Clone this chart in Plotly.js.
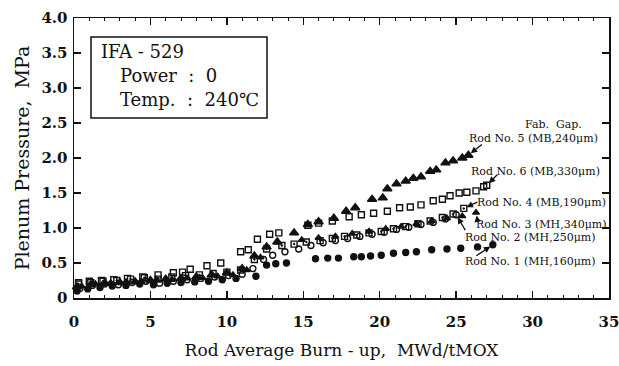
<!DOCTYPE html>
<html>
<head>
<meta charset="utf-8">
<script src="https://cdn.plot.ly/plotly-3.0.1.min.js"></script>
<style>html,body{margin:0;padding:0;background:#fff;}#chart{width:619px;height:366px;}</style>
</head>
<body>
<div id="chart"></div>
<script>
// ---- data ----
const rod1X = [0.2,0.9,1.7,2.5,3.4,4.3,5.2,6.1,7.0,7.9,8.8,9.7,10.6,11.9,12.6,13.2,13.9,15.8,16.6,17.3,18.3,18.8,19.4,20.1,20.9,21.7,22.4,23.4,24.4,25.3,26.4,27.4];
const rod1Y = [0.10,0.13,0.15,0.17,0.18,0.20,0.19,0.21,0.22,0.23,0.24,0.26,0.28,0.31,0.47,0.49,0.50,0.56,0.57,0.57,0.59,0.59,0.60,0.61,0.64,0.65,0.66,0.69,0.70,0.71,0.73,0.76];

const rod2X = [0.4,1.2,2.0,2.9,3.8,4.7,5.6,6.5,7.4,8.3,9.2,10.1,11.0,11.7,12.4,13.0,13.8,14.7,15.5,16.3,17.1,17.9,18.7,19.5,20.3,21.1,21.9,22.7,23.5,24.3,25.0];
const rod2Y = [0.14,0.18,0.20,0.19,0.22,0.24,0.21,0.24,0.26,0.28,0.30,0.32,0.34,0.42,0.55,0.61,0.66,0.70,0.75,0.79,0.82,0.85,0.88,0.91,0.94,0.98,1.01,1.05,1.08,1.13,1.19];

const rod3X = [0.5,1.4,2.4,3.4,4.4,5.4,6.4,7.4,8.4,9.4,10.4,11.3,12.2,13.3,14.9,16.0,17.1,18.2,19.3,20.4,21.4,22.4,23.4,24.4,25.4,26.3];
const rod3Y = [0.17,0.20,0.22,0.23,0.24,0.26,0.26,0.28,0.29,0.31,0.33,0.40,0.58,0.80,0.83,0.86,0.88,0.92,0.95,0.99,1.02,1.06,1.10,1.14,1.17,1.22];

const rod4X = [0.3,1.1,1.9,2.8,3.7,4.6,5.5,6.4,7.3,8.2,9.1,10.0,10.9,11.8,12.6,13.6,14.4,15.2,16.1,16.9,17.7,18.5,19.3,20.1,20.9,21.7,22.5,23.3,24.1,24.8,25.5];
const rod4Y = [0.20,0.22,0.24,0.25,0.27,0.29,0.27,0.30,0.32,0.33,0.35,0.37,0.40,0.55,0.70,0.75,0.77,0.80,0.82,0.85,0.88,0.90,0.93,0.95,0.99,1.02,1.06,1.10,1.15,1.20,1.28];

const rod5X = [0.2,1.1,2.0,3.0,4.0,5.0,6.0,7.0,8.0,9.0,10.0,11.0,11.8,12.6,13.3,14.4,15.3,16.0,17.0,17.8,18.4,19.5,20.2,20.5,21.1,21.7,22.2,22.7,23.3,23.7,24.3,24.8,25.4,25.8];
const rod5Y = [0.16,0.19,0.21,0.22,0.23,0.25,0.27,0.28,0.30,0.33,0.36,0.42,0.60,0.73,0.80,0.93,1.05,1.09,1.14,1.24,1.29,1.41,1.43,1.56,1.63,1.67,1.71,1.73,1.81,1.83,1.93,1.96,2.00,2.04];

const rod6X = [0.3,1.0,1.8,2.6,3.5,4.5,5.5,6.5,7.1,7.6,8.7,9.6,10.9,11.4,12.0,12.8,13.4,15.3,16.0,16.9,18.0,18.8,19.6,20.5,21.3,22.0,22.7,23.5,24.1,24.6,25.2,25.7,26.3,26.8,27.0];
const rod6Y = [0.22,0.24,0.25,0.26,0.28,0.30,0.33,0.36,0.37,0.41,0.46,0.50,0.66,0.69,0.84,0.91,0.93,1.04,1.07,1.10,1.16,1.19,1.21,1.24,1.29,1.30,1.33,1.39,1.41,1.46,1.50,1.51,1.53,1.59,1.61];

const rodLabels = ["Rod No. 1 (MH,160μm)","Rod No. 2 (MH,250μm)","Rod No. 3 (MH,340μm)","Rod No. 4 (MB,190μm)","Rod No. 5 (MB,240μm)","Rod No. 6 (MB,330μm)"];

const xTickVals = [0,5,10,15,20,25,30,35];
const xTickText = ["0","5","10","15","20","25","30","35"];
const yTickVals = [0,0.5,1.0,1.5,2.0,2.5,3.0,3.5,4.0];
const yTickText = ["0","0.5","1.0","1.5","2.0","2.5","3.0","3.5","4.0"];

const xTitle = "Rod Average Burn - up,  MWd/tMOX";
const yTitle = "Plenum Pressure,  MPa";
const infoLines = ["IFA - 529","Power  :  0","Temp.  :  240℃"];
const gapText = "Fab.  Gap.";

// ---- layout geometry ----
const W = 619, H = 366;
const M = {l:74, r:10, t:18, b:68};
const XR = [0,35], YR = [0,4];
const PW = W - M.l - M.r, PH = H - M.t - M.b;
const px2x = px => XR[0] + (px - M.l) / PW * (XR[1]-XR[0]);
const py2y = py => YR[0] + (M.t + PH - py) / PH * (YR[1]-YR[0]);

const FONT = "DejaVu Serif, Liberation Serif, serif";
const INK = "#111";

function series(x, y, symbol, size, name) {
  return {x, y, type:'scatter', mode:'markers', name,
    marker:{symbol, size, color:INK, line:{color:INK, width:1.4}}, cliponaxis:false};
}
const data = [
  series(rod1X, rod1Y, 'circle', 6, rodLabels[0]),
  series(rod2X, rod2Y, 'circle-open', 6, rodLabels[1]),
  series(rod3X, rod3Y, 'triangle-up', 6, rodLabels[2]),
  series(rod4X, rod4Y, 'square-open-dot', 6, rodLabels[3]),
  series(rod5X, rod5Y, 'triangle-up', 8, rodLabels[4]),
  series(rod6X, rod6Y, 'square-open', 6, rodLabels[5])
];

function label(text, cx, cy, size, xanchor) {
  return {text, x:px2x(cx), y:py2y(cy), xref:'x', yref:'y', showarrow:false,
    xanchor: xanchor || 'center', yanchor:'middle', font:{family:FONT, size, color:INK}};
}
function arrow(xs, ys, ax, ay) {
  return {text:'', x:xs[xs.length-1], y:ys[ys.length-1], xref:'x', yref:'y',
    showarrow:true, ax, ay, arrowhead:2, arrowsize:1, arrowwidth:1.3, arrowcolor:INK, standoff:3};
}

const annotations = [
  label(gapText, 553, 124, 11),
  label(rodLabels[4], 533, 138, 11),
  label(rodLabels[5], 535, 171, 11),
  label(rodLabels[3], 541, 202, 11),
  label(rodLabels[2], 541, 224, 11),
  label(rodLabels[1], 530, 237, 11),
  label(rodLabels[0], 530, 261, 11),
  arrow(rod5X, rod5Y, 15, -12),
  arrow(rod6X, rod6Y, 12, -12),
  arrow(rod4X, rod4Y, 15, -7),
  arrow(rod3X, rod3Y, 2, 11),
  arrow(rod2X, rod2Y, 10, 17),
  arrow(rod1X, rod1Y, -18, 12),
  label(infoLines[0], 99, 51, 18, 'left'),
  label(infoLines[1], 118, 75, 18, 'left'),
  label(infoLines[2], 118, 99, 18, 'left')
];

const shapes = [{type:'rect', xref:'x', yref:'y', x0:px2x(91), x1:px2x(267), y0:py2y(37), y1:py2y(118),
  line:{color:INK, width:1.5}, fillcolor:'rgba(0,0,0,0)'}];

const axisCommon = {
  showgrid:false, zeroline:false, showline:true, linecolor:INK, linewidth:1.5,
  mirror:'ticks', ticks:'inside', ticklen:7, tickwidth:1.3, tickcolor:INK,
  ticklabeloverflow:'allow',
  tickfont:{family:FONT, size:15, color:INK, weight:'bold'}, fixedrange:true
};

const layout = {
  width:W, height:H, margin:M, paper_bgcolor:'#fff', plot_bgcolor:'#fff', showlegend:false,
  xaxis:Object.assign({}, axisCommon, {range:XR, tickmode:'array', tickvals:xTickVals, ticktext:xTickText,
    ticklabelstandoff:9,
    minor:{dtick:1, ticks:'inside', ticklen:3, tickcolor:INK, tickwidth:1},
    title:{text:xTitle, font:{family:FONT, size:17, color:INK}, standoff:14}}),
  yaxis:Object.assign({}, axisCommon, {range:YR, tickmode:'array', tickvals:yTickVals, ticktext:yTickText,
    ticklabelstandoff:2,
    title:{text:yTitle, font:{family:FONT, size:19, color:INK}, standoff:6}}),
  annotations, shapes
};

Plotly.newPlot('chart', data, layout, {staticPlot:true, displayModeBar:false});
</script>
</body>
</html>
